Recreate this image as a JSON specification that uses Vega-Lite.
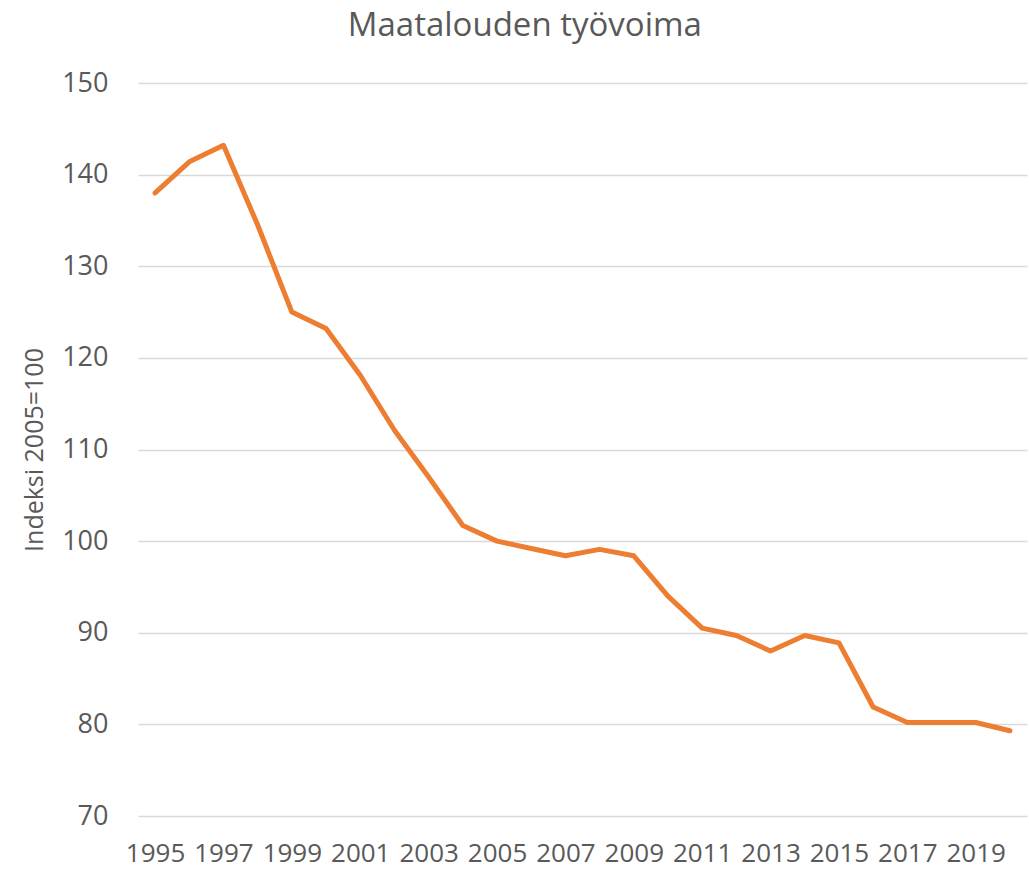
{
  "$schema": "https://vega.github.io/schema/vega-lite/v6.json",
  "autosize": {"type": "none"},
  "padding": {"left": 138, "top": 83, "right": 2, "bottom": 53},
  "width": 889,
  "height": 733,
  "background": "white",
  "title": {
    "text": "Maatalouden työvoima",
    "fontSize": 33,
    "font": "Open Sans",
    "fontWeight": "normal",
    "color": "#595959",
    "anchor": "middle",
    "frame": "bounds",
    "baseline": "alphabetic",
    "offset": 0
  },
  "config": {
    "view": {"stroke": null},
    "font": "Open Sans"
  },
  "data": {
    "values": [
      {"year": 1995, "value": 138.0},
      {"year": 1996, "value": 141.4},
      {"year": 1997, "value": 143.2},
      {"year": 1998, "value": 134.5},
      {"year": 1999, "value": 125.0},
      {"year": 2000, "value": 123.2},
      {"year": 2001, "value": 118.1},
      {"year": 2002, "value": 112.1},
      {"year": 2003, "value": 107.0},
      {"year": 2004, "value": 101.7},
      {"year": 2005, "value": 100.0},
      {"year": 2006, "value": 99.2},
      {"year": 2007, "value": 98.4},
      {"year": 2008, "value": 99.1},
      {"year": 2009, "value": 98.4},
      {"year": 2010, "value": 94.0},
      {"year": 2011, "value": 90.5},
      {"year": 2012, "value": 89.7},
      {"year": 2013, "value": 88.0},
      {"year": 2014, "value": 89.7},
      {"year": 2015, "value": 88.9},
      {"year": 2016, "value": 81.9},
      {"year": 2017, "value": 80.2},
      {"year": 2018, "value": 80.2},
      {"year": 2019, "value": 80.2},
      {"year": 2020, "value": 79.3}
    ]
  },
  "mark": {
    "type": "line",
    "color": "#ED7D31",
    "strokeWidth": 5,
    "strokeCap": "round",
    "strokeJoin": "round"
  },
  "encoding": {
    "x": {
      "field": "year",
      "type": "quantitative",
      "scale": {"domain": [1994.5, 2020.5], "nice": false, "zero": false},
      "axis": {
        "title": null,
        "values": [1995, 1997, 1999, 2001, 2003, 2005, 2007, 2009, 2011, 2013, 2015, 2017, 2019],
        "format": "d",
        "grid": false,
        "domain": false,
        "ticks": false,
        "labelFontSize": 26,
        "labelColor": "#595959",
        "labelPadding": 24,
        "labelOverlap": false,
        "labelFlush": false
      }
    },
    "y": {
      "field": "value",
      "type": "quantitative",
      "scale": {"domain": [70, 150], "nice": false, "zero": false},
      "axis": {
        "title": "Indeksi 2005=100",
        "titleFontSize": 25,
        "titleFontWeight": "normal",
        "titleColor": "#595959",
        "titlePadding": 14,
        "values": [70, 80, 90, 100, 110, 120, 130, 140, 150],
        "grid": true,
        "gridColor": "#D9D9D9",
        "gridWidth": 1.5,
        "domain": false,
        "ticks": false,
        "labelFontSize": 27,
        "labelColor": "#595959",
        "labelPadding": 30
      }
    }
  }
}
